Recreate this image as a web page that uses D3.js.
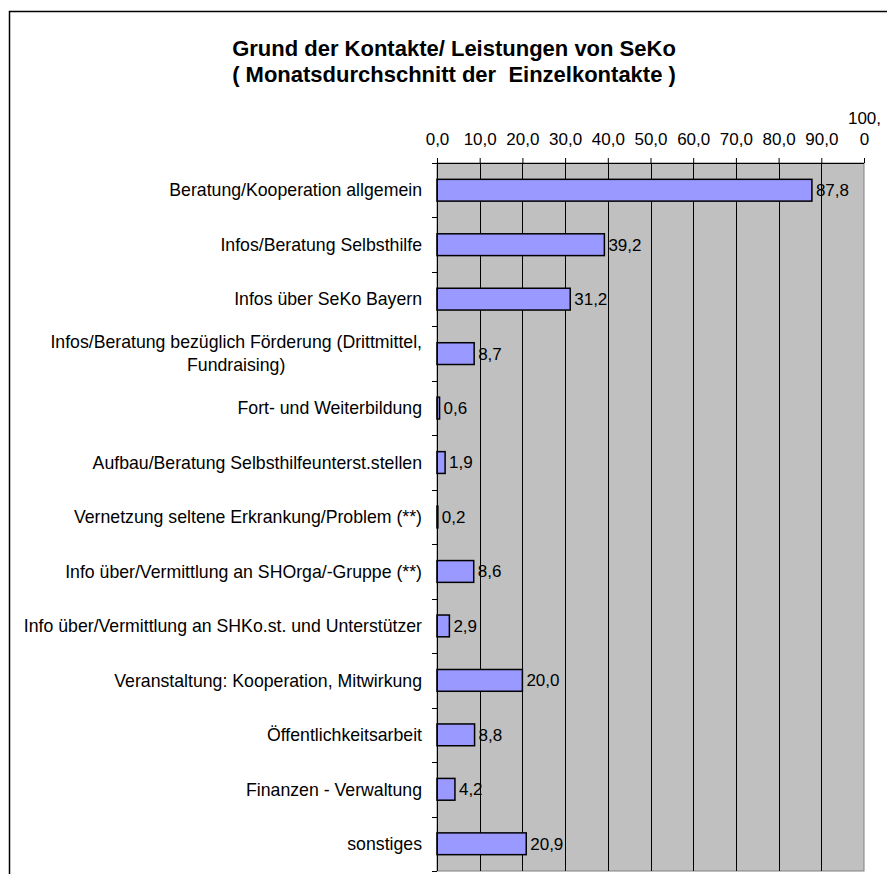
<!DOCTYPE html>
<html><head><meta charset="utf-8">
<script src="https://cdn.jsdelivr.net/npm/d3@7"></script>
<style>
body{margin:0;background:#fff;}
svg{display:block;font-family:"Liberation Sans",Arial,sans-serif;}
</style></head><body>
<svg id="c" width="887" height="874"></svg>
<script>
const titleLines = ["Grund der Kontakte/ Leistungen von SeKo", "( Monatsdurchschnitt der  Einzelkontakte )"];
const categories = [
  "Beratung/Kooperation allgemein",
  "Infos/Beratung Selbsthilfe",
  "Infos über SeKo Bayern",
  "Infos/Beratung bezüglich Förderung (Drittmittel,\nFundraising)",
  "Fort- und Weiterbildung",
  "Aufbau/Beratung Selbsthilfeunterst.stellen",
  "Vernetzung seltene Erkrankung/Problem (**)",
  "Info über/Vermittlung an SHOrga/-Gruppe (**)",
  "Info über/Vermittlung an SHKo.st. und Unterstützer",
  "Veranstaltung: Kooperation, Mitwirkung",
  "Öffentlichkeitsarbeit",
  "Finanzen - Verwaltung",
  "sonstiges"
];
const values = [87.8, 39.2, 31.2, 8.7, 0.6, 1.9, 0.2, 8.6, 2.9, 20.0, 8.8, 4.2, 20.9];
const tickValues = [0,10,20,30,40,50,60,70,80,90,100];

const svg = d3.select("#c");
const L = 437, R = 864, T = 163, B = 871;
const fmt = v => v.toFixed(1).replace(".", ",");

// outer frame
svg.append("path").attr("d", "M9.5,900 V11.5 H900").attr("fill","none").attr("stroke","#000").attr("stroke-width",1.5);

// title
const tt = svg.append("text").attr("text-anchor","middle").attr("font-weight","bold").attr("font-size",22).attr("fill","#000").style("white-space","pre");
titleLines.forEach((t,i)=> tt.append("tspan").attr("x",454).attr("y",56 + i*26).text(t));

const x = d3.scaleLinear().domain([0,100]).range([L,R]);
const y = d3.scaleBand().domain(categories).range([T,B]).paddingInner(0.6).paddingOuter(0.3);

// plot background
svg.append("rect").attr("x",L).attr("y",T).attr("width",R-L).attr("height",B-T).attr("fill","#c0c0c0").attr("stroke","#808080").attr("stroke-width",1);

// grid
svg.append("g").selectAll("line").data(tickValues.slice(1,-1)).join("line")
  .attr("x1",d=>Math.round(x(d))+0.5).attr("x2",d=>Math.round(x(d))+0.5)
  .attr("y1",T).attr("y2",B).attr("stroke","#000").attr("stroke-width",1);

// bars
svg.append("g").selectAll("rect").data(values).join("rect")
  .attr("x",x(0)).attr("y",(d,i)=>y(categories[i]))
  .attr("width",d=>x(d)-x(0)).attr("height",y.bandwidth())
  .attr("fill","#9999ff").attr("stroke","#000").attr("stroke-width",1.5);

// value labels
svg.append("g").selectAll("text").data(values).join("text")
  .attr("x",d=>x(d)+4).attr("y",(d,i)=>y(categories[i])+y.bandwidth()/2)
  .attr("dy","0.35em").attr("font-size",17).attr("fill","#000").text(d=>fmt(d));

// top axis
const ax = svg.append("g").attr("transform",`translate(0,${T})`)
  .call(d3.axisTop(x).tickValues(tickValues).tickSize(5).tickPadding(13).tickFormat(fmt));
ax.select(".domain").attr("stroke","#000").attr("d",`M${L-5},0.5H${R}`);
ax.selectAll(".tick line").attr("stroke","#000");
ax.selectAll(".tick text").attr("font-size",17).attr("font-family","'Liberation Sans',Arial,sans-serif").attr("fill","#000");
ax.selectAll(".tick text").filter(d=>d===100).each(function(d){
  const s = fmt(d); const t = d3.select(this); t.text(null);
  t.append("tspan").attr("x",0).attr("dy","-1.25em").text(s.slice(0,4));
  t.append("tspan").attr("x",0).attr("dy","1.25em").text(s.slice(4));
});

// left axis line + band-boundary ticks
svg.append("line").attr("x1",L+0.5).attr("x2",L+0.5).attr("y1",T).attr("y2",B).attr("stroke","#000");
svg.append("g").selectAll("line").data(d3.range(categories.length+1)).join("line")
  .attr("x1",L-5).attr("x2",L).attr("y1",i=>Math.round(T+i*y.step())+0.5).attr("y2",i=>Math.round(T+i*y.step())+0.5)
  .attr("stroke","#000");

// category labels
const lab = svg.append("g").selectAll("text").data(categories).join("text")
  .attr("font-size",17.7).attr("fill","#000").attr("text-anchor","middle");
lab.each(function(c){
  const t = d3.select(this);
  const lines = c.split("\n");
  const cy = y(c)+y.bandwidth()/2;
  const sp = lines.map(l=>t.append("tspan").text(l));
  let w = 0; sp.forEach(s=>{ w = Math.max(w, s.node().getComputedTextLength()); });
  const cx = 422 - w/2;
  sp.forEach((s,i)=> s.attr("x",cx).attr("y",cy + (i-(lines.length-1)/2)*23).attr("dy","0.35em"));
});
</script>
</body></html>
